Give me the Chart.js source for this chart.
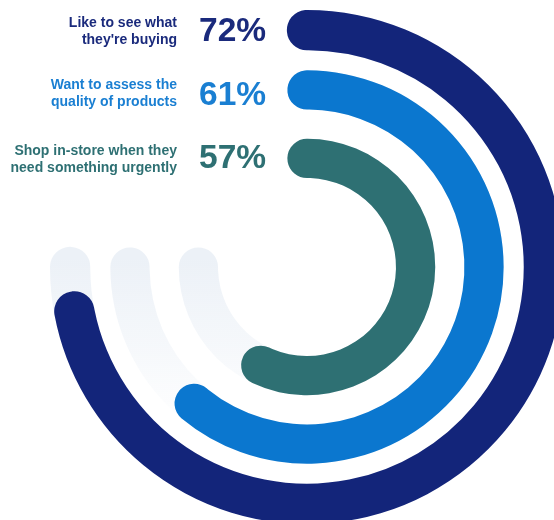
<!DOCTYPE html>
<html>
<head>
<meta charset="utf-8">
<script src="https://cdn.jsdelivr.net/npm/chart.js@4"></script>
<style>
  html, body { margin: 0; padding: 0; background: #fff; }
  body { width: 554px; height: 520px; overflow: hidden; position: relative; font-family: "Liberation Sans", Arial, sans-serif; }
  .rings { position: absolute; left: 50px; top: 10px; width: 514px; height: 514px; }
  .rings canvas { position: absolute; left: 0; top: 0; }
  .label { position: absolute; right: 377px; width: 200px; text-align: right; font-weight: bold; font-size: 14px; line-height: 16.5px; }
  .pct { position: absolute; left: 199px; font-weight: bold; font-size: 33.5px; line-height: 33.5px; }
</style>
</head>
<body>
<div class="rings">
  <canvas id="trackChart"></canvas>
  <canvas id="ringChart"></canvas>
</div>
<div id="texts"></div>
<script>
// outer ring first
const categories = [
  ["Like to see what", "they're buying"],
  ["Want to assess the", "quality of products"],
  ["Shop in-store when they", "need something urgently"]
];
const values = [72, 61, 57];
const trackMax = 75;
const colors = ["#13257a", "#0b77cf", "#2e7073"];
const textColors = ["#1a2a7c", "#1a7fd2", "#2e7073"];

// ring thickness and gaps in px (outer to inner)
const ringWeights = [40, 39, 39];
const gapWeights = [20, 29];
const cutoutPx = 89;

// text blocks
const labelTops = [14, 76, 142];
const pctTops = [13, 77, 140];
const texts = document.getElementById("texts");
categories.forEach((lines, i) => {
  const lab = document.createElement("div");
  lab.className = "label";
  lab.style.top = labelTops[i] + "px";
  lab.style.color = textColors[i];
  lab.innerHTML = lines.join("<br>");
  texts.appendChild(lab);
  const pct = document.createElement("div");
  pct.className = "pct";
  pct.style.top = pctTops[i] + "px";
  pct.style.color = textColors[i];
  pct.textContent = values[i] + "%";
  texts.appendChild(pct);
});

function buildDatasets(ringData, ringColor) {
  const sets = [];
  values.forEach((v, i) => {
    const d = ringData(v);
    sets.push({
      data: d,
      capped: true,
      backgroundColor: d.map((_, k) => (k === 0 ? ringColor(i) : "rgba(0,0,0,0)")),
      borderWidth: 0,
      weight: ringWeights[i],
      borderRadius: (ctx) => (ctx.dataIndex === 0 ? 20 : 0)
    });
    if (i < gapWeights.length) {
      sets.push({
        data: [100],
        backgroundColor: "rgba(0,0,0,0)",
        borderWidth: 0,
        weight: gapWeights[i]
      });
    }
  });
  return sets;
}

// round line caps: let the first arc of a ring stick out half its thickness at both ends
const roundCaps = {
  id: "roundCaps",
  afterDatasetsUpdate(chart) {
    chart.data.datasets.forEach((ds, i) => {
      if (!ds.capped) return;
      const el = chart.getDatasetMeta(i).data[0];
      const half = (el.outerRadius - el.innerRadius) / 2;
      const cap = half / ((el.outerRadius + el.innerRadius) / 2);
      el.startAngle -= cap;
      el.endAngle += cap;
      el.circumference += 2 * cap;
    });
  }
};

const baseOptions = {
  responsive: true,
  maintainAspectRatio: false,
  animation: false,
  events: [],
  cutout: cutoutPx,
  layout: { padding: 0 },
  plugins: { legend: { display: false }, tooltip: { enabled: false } }
};

// faded grey tracks behind the rings
function trackFill(chart) {
  const area = chart.chartArea;
  if (!area) return "#eef2f7";
  const g = chart.ctx.createLinearGradient(0, area.top + 250, 0, area.top + 420);
  g.addColorStop(0, "rgba(236,241,247,1)");
  g.addColorStop(1, "rgba(236,241,247,0)");
  return g;
}

const trackChart = new Chart(document.getElementById("trackChart"), {
  type: "doughnut",
  data: {
    datasets: buildDatasets(() => [trackMax, 100 - trackMax], () => "#eef2f7")
  },
  options: baseOptions,
  plugins: [roundCaps]
});
trackChart.data.datasets.forEach((ds) => {
  if (ds.capped) ds.backgroundColor = [trackFill(trackChart), "rgba(0,0,0,0)"];
});
trackChart.update();

new Chart(document.getElementById("ringChart"), {
  type: "doughnut",
  data: {
    datasets: buildDatasets((v) => [v, 100 - v], (i) => colors[i])
  },
  options: baseOptions,
  plugins: [roundCaps]
});
</script>
</body>
</html>
